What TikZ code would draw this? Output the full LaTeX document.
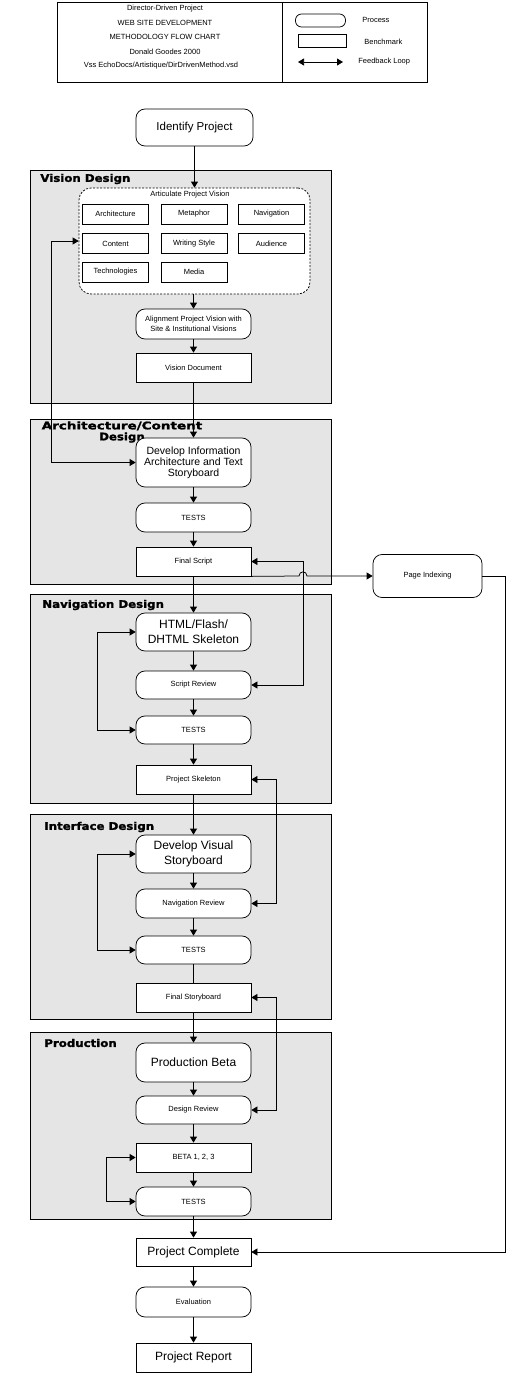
\documentclass[tikz,border=0pt]{standalone}
\usepackage{fontspec}
\setmainfont{Liberation Sans}
\newfontfamily\titlefont[FakeStretch=1.12,FakeBold=1.6]{DejaVu Sans Bold}
\usetikzlibrary{arrows.meta}
\newcommand{\myfsmall}{\fontsize{7.5pt}{10pt}\selectfont}
\newcommand{\myfbig}{\fontsize{12pt}{15pt}\selectfont}
\newcommand{\myfmid}{\fontsize{10.5pt}{11pt}\selectfont}
\newcommand{\myftitle}{\titlefont\fontsize{10.5pt}{11pt}\selectfont}
\begin{document}
\begin{tikzpicture}[x=1pt,y=-1pt,line width=0.75pt,
  >={Triangle[length=6pt,width=7pt]},
  proc/.style={draw,fill=white,rounded corners=9pt,minimum width=115pt,inner sep=1pt,align=center,font=\myfsmall},
  bench/.style={draw,fill=white,minimum width=115pt,inner sep=1pt,align=center,font=\myfsmall},
  cell/.style={draw,fill=white,minimum width=66pt,minimum height=20pt,inner sep=0pt,font=\myfsmall},
  panel/.style={draw,fill=black!10},
  ttl/.style={anchor=west,inner sep=0pt,font=\myftitle},
  hd/.style={inner sep=0pt,font=\myfsmall}]
\useasboundingbox (0,0) rectangle (528,1374);

% header
\draw (57,2) rectangle (427,82);
\draw (282,2) -- (282,82);
\node[hd] (h1) at (165,8.5) {Director-Driven Project};
\node[hd] (h2) at (165,22.5) {WEB SITE DEVELOPMENT};
\node[hd] (h3) at (165,37) {METHODOLOGY FLOW CHART};
\node[hd] (h4) at (165,51.5) {Donald Goodes 2000};
\node[hd] (h5) at (161,66) {Vss EchoDocs/Artistique/DirDrivenMethod.vsd};
\node[draw,rounded corners=6pt,minimum width=50pt,minimum height=13pt,inner sep=0pt] (lgproc) at (320.5,20.5) {};
\node[hd,anchor=west] (lgproct) at (362,20) {Process};
\node[draw,minimum width=48pt,minimum height=13pt,inner sep=0pt] (lgbench) at (322,40.5) {};
\node[hd,anchor=west] (lgbencht) at (364,42) {Benchmark};
\coordinate (lgfa) at (298,62);
\coordinate (lgfb) at (343,62);
\draw[<->] (lgfa) -- (lgfb);
\node[hd,anchor=west] (lgfbt) at (358,62) {Feedback Loop};

% panels
\draw[panel] (30,170) rectangle (331,403);
\draw[panel] (30,419) rectangle (331,584);
\draw[panel] (30,594) rectangle (331,803);
\draw[panel] (30,814) rectangle (331,1019);
\draw[panel] (30,1032) rectangle (331,1219);
\node[ttl] (t1) at (40,179) {Vision Design};
\node[inner sep=0pt,font=\myftitle,align=center,anchor=north] (t2) at (122,421) {\scalebox{1.15}[1]{Architecture/Content}\\Design};
\node[ttl] (t3) at (42,605) {Navigation Design};
\node[ttl] (t4) at (44,827) {Interface Design};
\node[ttl] (t5) at (44,1043) {Production};

% vision design
\node[proc,minimum width=117pt,minimum height=37pt,font=\fontsize{11.5pt}{14pt}\selectfont] (ident) at (194.5,127.5) {Identify Project};
\node[draw,dash pattern=on 2pt off 1.5pt,fill=white,rounded corners=12pt,minimum width=231pt,minimum height=106pt] (artic) at (194.5,241) {};
\node[hd] (articl) at (190,195) {Articulate Project Vision};
\node[cell] (c11) at (115.5,214) {Architecture};
\node[cell] (c12) at (194,214) {Metaphor};
\node[cell] (c13) at (271.5,214) {Navigation};
\node[cell] (c21) at (115.5,243.5) {Content};
\node[cell] (c22) at (194,243.5) {Writing Style};
\node[cell] (c23) at (271.5,243.5) {Audience};
\node[cell] (c31) at (115.5,272) {Technologies};
\node[cell] (c32) at (194,272) {Media};
\node[proc,minimum height=30pt] (align) at (193.5,324) {Alignment Project Vision with\\Site \& Institutional Visions};
\node[bench,minimum height=29pt] (visdoc) at (193.5,367.5) {Vision Document};

% architecture/content
\node[proc,minimum height=49pt,font=\myfmid] (devinfo) at (193.5,462.5) {Develop Information\\Architecture and Text\\Storyboard};
\node[proc,minimum height=29pt] (tests1) at (193.5,517.5) {TESTS};
\node[bench,minimum height=29pt] (fscript) at (193.5,561.5) {Final Script};
\node[proc,minimum width=109pt,minimum height=43pt] (pageidx) at (427.5,576) {Page Indexing};

% navigation
\node[proc,minimum height=38pt,font=\myfbig] (html) at (193.5,632) {HTML/Flash/\\DHTML Skeleton};
\node[proc,minimum height=28pt] (screv) at (193.5,685) {Script Review};
\node[proc,minimum height=28pt] (tests2) at (193.5,730) {TESTS};
\node[bench,minimum height=29pt] (pskel) at (193.5,779.5) {Project Skeleton};

% interface
\node[proc,minimum height=38pt,font=\myfbig] (devvis) at (193.5,854) {Develop Visual\\Storyboard};
\node[proc,minimum height=29pt] (navrev) at (193.5,903.5) {Navigation Review};
\node[proc,minimum height=28pt] (tests3) at (193.5,950) {TESTS};
\node[bench,minimum height=29pt] (fstory) at (193.5,997.5) {Final Storyboard};

% production
\node[proc,minimum height=39pt,font=\myfbig] (prodbeta) at (193.5,1062.5) {Production Beta};
\node[proc,minimum height=28pt] (desrev) at (193.5,1110) {Design Review};
\node[bench,minimum height=29pt] (beta) at (193.5,1157.5) {BETA 1, 2, 3};
\node[proc,minimum height=29pt] (tests4) at (193.5,1201.5) {TESTS};

% final
\node[bench,minimum height=28pt,font=\myfbig] (pcomp) at (193.5,1252) {Project Complete};
\node[proc,minimum height=30pt] (eval) at (193.5,1302) {Evaluation};
\node[bench,minimum height=29pt,font=\myfbig] (prep) at (193.5,1357.5) {Project Report};

% main flow
\draw[->] (ident.south) -- (ident.south |- artic.north);
\draw[->] (align.north |- artic.south) -- (align.north);
\foreach \a/\b in {align/visdoc,visdoc/devinfo,devinfo/tests1,tests1/fscript,fscript/html,html/screv,screv/tests2,tests2/pskel,pskel/devvis,devvis/navrev,navrev/tests3,fstory/prodbeta,prodbeta/desrev,desrev/beta,beta/tests4,tests4/pcomp,pcomp/eval,eval/prep}
  \draw[->] (\a) -- (\b);
\draw (tests3) -- (fstory);

% feedback loops
\draw[<->] (devinfo.west) -- ++(-84,0) |- (artic.west);
\draw[<->] (fscript.east) -- ++(52,0) |- (screv.east);
\draw[<->] (html.west) -- ++(-38,0) |- (tests2.west);
\draw[<->] (pskel.east) -- ++(25,0) |- (navrev.east);
\draw[<->] (devvis.west) -- ++(-38,0) |- (tests3.west);
\draw[<->] (fstory.east) -- ++(25,0) |- (desrev.east);
\draw[<->] (beta.west) -- ++(-29,0) |- (tests4.west);

% page indexing
\draw[->] (fscript.south east) -- (299,576) .. controls (299,570.5) and (307,570.5) .. (307,576) -- (pageidx.west);
\draw[->] (pageidx.east) -- ++(23,0) |- (pcomp.east);
\end{tikzpicture}
\end{document}
